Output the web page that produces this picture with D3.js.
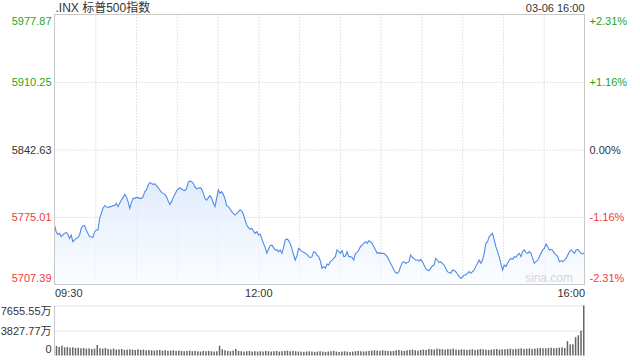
<!DOCTYPE html>
<html>
<head>
<meta charset="utf-8">
<script src="https://cdn.jsdelivr.net/npm/d3@7"></script>
<style>
body { margin: 0; background: #fff; }
text { font-family: "Liberation Sans", Arial, "Noto Sans CJK SC", sans-serif; }
</style>
</head>
<body>
<div class="canva"></div>
<script>
// index level (one point every ~1.2 minutes)
const prices = [
5767.0,5760.3,5757.6,5758.6,5755.3,5757.0,5758.6,5759.6,5757.6,5753.6,5757.0,5750.3,5752.0,5753.6,5754.3,5757.0,
5763.7,5766.3,5766.3,5762.0,5758.6,5755.3,5755.3,5754.6,5760.3,5762.0,5762.0,5773.7,5778.7,5783.7,5786.4,5785.4,
5784.4,5785.4,5785.4,5786.4,5786.4,5788.7,5785.4,5788.7,5792.0,5794.4,5797.7,5795.4,5790.4,5783.7,5789.7,5793.7,
5793.7,5794.7,5794.4,5793.7,5793.7,5795.4,5800.4,5802.1,5807.1,5809.7,5808.7,5807.7,5808.1,5806.4,5804.4,5802.1,
5799.7,5798.7,5797.7,5795.4,5791.0,5787.7,5790.4,5794.4,5797.7,5801.1,5803.1,5804.4,5803.1,5802.1,5801.4,5803.7,
5809.7,5811.1,5810.4,5808.7,5805.4,5803.1,5803.7,5804.4,5803.1,5798.7,5793.7,5792.0,5794.4,5796.4,5793.7,5788.7,
5785.4,5793.7,5802.1,5798.7,5800.4,5797.7,5793.0,5786.4,5785.4,5783.0,5780.4,5778.7,5777.0,5778.7,5780.4,5782.0,
5781.0,5777.7,5772.0,5767.0,5764.3,5762.7,5763.7,5761.0,5758.6,5760.3,5757.0,5758.0,5753.0,5748.6,5744.3,5738.6,
5743.0,5746.3,5747.0,5744.3,5742.0,5742.3,5740.3,5742.0,5738.6,5744.3,5752.0,5753.0,5751.6,5748.6,5743.0,5736.9,
5731.9,5736.3,5743.6,5742.0,5740.3,5739.6,5738.6,5737.6,5735.6,5734.3,5735.3,5740.3,5739.6,5736.9,5735.3,5730.9,
5723.6,5725.3,5723.6,5727.9,5726.9,5730.3,5731.9,5733.6,5735.3,5742.0,5740.3,5738.6,5741.3,5735.3,5735.9,5740.3,
5735.3,5735.3,5734.6,5731.9,5738.6,5739.3,5742.0,5745.3,5747.0,5748.6,5750.3,5748.6,5751.3,5750.3,5748.6,5745.3,
5742.0,5738.6,5739.3,5738.6,5738.6,5738.6,5737.0,5735.3,5731.9,5728.6,5725.3,5721.9,5719.3,5718.6,5720.3,5725.3,
5729.3,5730.3,5728.6,5729.3,5730.3,5737.0,5734.6,5733.6,5731.9,5731.9,5730.9,5732.6,5730.3,5726.9,5723.6,5721.9,
5721.3,5723.6,5725.9,5726.9,5733.6,5731.9,5729.3,5730.3,5728.6,5726.9,5723.6,5720.3,5719.3,5718.6,5721.9,5721.3,
5720.3,5717.9,5715.2,5713.6,5714.6,5716.9,5716.9,5718.6,5720.3,5718.6,5720.3,5721.9,5725.3,5728.6,5731.9,5728.6,
5731.9,5738.6,5748.6,5750.3,5755.3,5757.0,5758.7,5752.0,5745.3,5740.3,5735.3,5728.6,5721.9,5726.9,5725.3,5728.6,
5731.9,5733.6,5732.6,5735.3,5734.6,5737.0,5738.6,5735.3,5740.3,5742.0,5739.3,5738.6,5740.3,5738.6,5733.6,5728.6,
5730.3,5731.9,5735.3,5738.6,5742.0,5743.6,5748.0,5745.3,5742.0,5742.6,5741.3,5738.6,5737.0,5735.3,5730.3,5731.3,
5730.3,5731.9,5733.6,5737.0,5740.3,5742.0,5740.3,5738.6,5742.0,5742.6,5740.3,5738.6,5738.0,5739.3
];

// volume per 2-minute bar, in 万
const volumes = [
1450,1300,1500,1250,1300,1200,1250,1150,1200,1100,1150,1050,1100,1000,1050,
1600,1100,1050,1150,1000,950,1050,900,950,1000,850,900,950,900,850,
950,850,900,800,850,800,750,800,850,750,800,700,750,800,700,
750,700,650,700,750,650,700,650,600,700,650,700,650,600,650,
1500,950,800,700,650,750,1000,700,650,600,650,700,600,650,600,
650,600,700,650,600,650,700,600,650,700,750,650,700,650,600,
600,550,600,650,600,550,600,650,600,550,600,650,700,600,550,
600,650,600,550,600,650,700,650,600,650,700,750,800,750,700,
800,750,700,650,700,800,850,750,700,800,850,900,800,750,850,
900,850,1000,950,900,1050,1000,950,900,1000,950,1050,900,850,950,
900,850,900,950,850,900,1000,950,900,850,900,950,1000,900,950,
950,1000,1050,950,1000,1050,1100,1000,1050,1100,1000,1050,1100,1150,1100,
1100,1150,1200,1100,1150,1200,1250,1150,2200,1700,1700,2800,3100,3800,7655.55
];

const priceTicks = [5707.39, 5775.01, 5842.63, 5910.25, 5977.87];
const pctLabels = ["-2.31%", "-1.16%", "0.00%", "+1.16%", "+2.31%"];
const volTicks = [0, 3827.77, 7655.55];
const timeTicks = [0, 150, 390];
const timeLabels = ["09:30", "12:00", "16:00"];
const prevClose = 5842.63;

const green = "#1ea61e", red = "#f23a3a", dark = "#333";
const box = {left: 54.5, right: 584.5, top: 14.5, bottom: 284.5};
const vol = {top: 305.5, bottom: 355.5};

const svg = d3.select(".canva").append("svg")
    .attr("width", 640)
    .attr("height", 360);

const x = d3.scaleLinear().domain([0, 390]).range([box.left, box.right]);
const y = d3.scaleLinear().domain([5707.39, 5977.87]).range([box.bottom, box.top]);
const yV = d3.scaleLinear().domain([0, 7655.55]).range([vol.bottom, vol.top]);

const tickColor = v => v > prevClose ? green : (v < prevClose ? red : dark);

// gradient under the line
const grad = svg.append("defs").append("linearGradient")
    .attr("id", "area").attr("x1", 0).attr("y1", 0).attr("x2", 0).attr("y2", 1);
grad.append("stop").attr("offset", "0%").attr("stop-color", "#dce9fb").attr("stop-opacity", 0.9);
grad.append("stop").attr("offset", "100%").attr("stop-color", "#f7faff").attr("stop-opacity", 0.6);

// vertical dotted grid every 30 min
svg.append("g")
    .attr("transform", `translate(0,${box.top})`)
    .call(d3.axisBottom(x).tickValues(d3.range(30, 390, 30)).tickSize(box.bottom - box.top).tickFormat(""))
    .call(g => g.select(".domain").remove())
    .call(g => g.selectAll("line").attr("stroke", "#c8c8c8").attr("stroke-dasharray", "1,2"));

// horizontal dotted grid
svg.append("g")
    .attr("transform", `translate(${box.left},0)`)
    .call(d3.axisRight(y).tickValues(priceTicks.slice(1, 4)).tickSize(box.right - box.left).tickFormat(""))
    .call(g => g.select(".domain").remove())
    .call(g => g.selectAll("line").attr("stroke", "#c8c8c8").attr("stroke-dasharray", "1,2"));

const n = prices.length;
const pts = prices.map((p, i) => ({ m: i * 390 / (n - 1), p: p }));

svg.append("path")
    .datum(pts)
    .attr("fill", "url(#area)")
    .attr("d", d3.area().x(d => x(d.m)).y0(box.bottom).y1(d => y(d.p)));

svg.append("path")
    .datum(pts)
    .attr("fill", "none")
    .attr("stroke", "#4f8ae8")
    .attr("stroke-width", 1.1)
    .attr("d", d3.line().x(d => x(d.m)).y(d => y(d.p)));

// frame
svg.append("rect")
    .attr("x", box.left).attr("y", box.top)
    .attr("width", box.right - box.left).attr("height", box.bottom - box.top)
    .attr("fill", "none").attr("stroke", "#c8c8c8");

// watermark
svg.append("text")
    .attr("x", 573).attr("y", 282)
    .attr("text-anchor", "end")
    .attr("font-size", 12)
    .attr("fill", "#d6d6d6")
    .text("sina.com");

// left price axis
svg.append("g")
    .attr("transform", `translate(${box.left - 3},0)`)
    .call(d3.axisLeft(y).tickValues(priceTicks).tickSize(0).tickPadding(0).tickFormat(d3.format(".2f")))
    .call(g => g.select(".domain").remove())
    .call(g => g.selectAll("text")
        .attr("font-size", 11)
        .attr("font-family", null)
        .attr("fill", d => tickColor(d))
        .attr("dy", (d, i) => i === 0 ? "-0.25em" : (i === priceTicks.length - 1 ? "0.95em" : "0.32em")));

// right percent axis
svg.append("g")
    .attr("transform", `translate(${box.right + 5},0)`)
    .call(d3.axisRight(y).tickValues(priceTicks).tickSize(0).tickPadding(0).tickFormat((d, i) => pctLabels[i]))
    .call(g => g.select(".domain").remove())
    .call(g => g.selectAll("text")
        .attr("font-size", 11)
        .attr("font-family", null)
        .attr("fill", d => tickColor(d))
        .attr("dy", (d, i) => i === 0 ? "-0.25em" : (i === priceTicks.length - 1 ? "0.95em" : "0.32em")));

// time labels
svg.append("g")
    .attr("transform", `translate(0,${box.bottom + 3})`)
    .call(d3.axisBottom(x).tickValues(timeTicks).tickSize(0).tickPadding(0).tickFormat((d, i) => timeLabels[i]))
    .call(g => g.select(".domain").remove())
    .call(g => g.selectAll("text")
        .attr("font-size", 11)
        .attr("font-family", null)
        .attr("fill", dark)
        .attr("dy", "0.9em")
        .attr("text-anchor", (d, i) => i === 0 ? "start" : (i === timeTicks.length - 1 ? "end" : "middle")));

// title and date
svg.append("text")
    .attr("x", box.left + 1).attr("y", 12)
    .attr("font-size", 12)
    .attr("fill", dark)
    .text(".INX 标普500指数");

svg.append("text")
    .attr("x", box.right).attr("y", 12)
    .attr("text-anchor", "end")
    .attr("font-size", 11)
    .attr("fill", dark)
    .text("03-06 16:00");

// volume panel
svg.append("g")
    .attr("transform", `translate(${box.left},0)`)
    .call(d3.axisRight(yV).tickValues(volTicks.slice(1)).tickSize(box.right - box.left).tickFormat(""))
    .call(g => g.select(".domain").remove())
    .call(g => g.selectAll("line").attr("stroke", "#c8c8c8").attr("stroke-dasharray", "1,1"));

svg.append("line")
    .attr("x1", box.left).attr("x2", box.left)
    .attr("y1", vol.top).attr("y2", vol.bottom)
    .attr("stroke", "#c8c8c8");

const nb = volumes.length;
svg.append("g").selectAll("rect")
    .data(volumes)
    .enter().append("rect")
    .attr("x", (d, i) => x((i + 1) * 390 / nb) - 1.5)
    .attr("width", 1.5)
    .attr("y", d => yV(d))
    .attr("height", d => vol.bottom - yV(d))
    .attr("fill", "#666");

svg.append("g")
    .attr("transform", `translate(${box.left - 3},0)`)
    .call(d3.axisLeft(yV).tickValues(volTicks).tickSize(0).tickPadding(0)
        .tickFormat(d => d === 0 ? "0" : d3.format(".2f")(d) + "万"))
    .call(g => g.select(".domain").remove())
    .call(g => g.selectAll("text")
        .attr("font-size", 11)
        .attr("font-family", null)
        .attr("fill", dark)
        .attr("dy", (d, i) => i === 0 ? "-0.3em" : (i === volTicks.length - 1 ? "0.85em" : "0.32em")));
</script>
</body>
</html>
